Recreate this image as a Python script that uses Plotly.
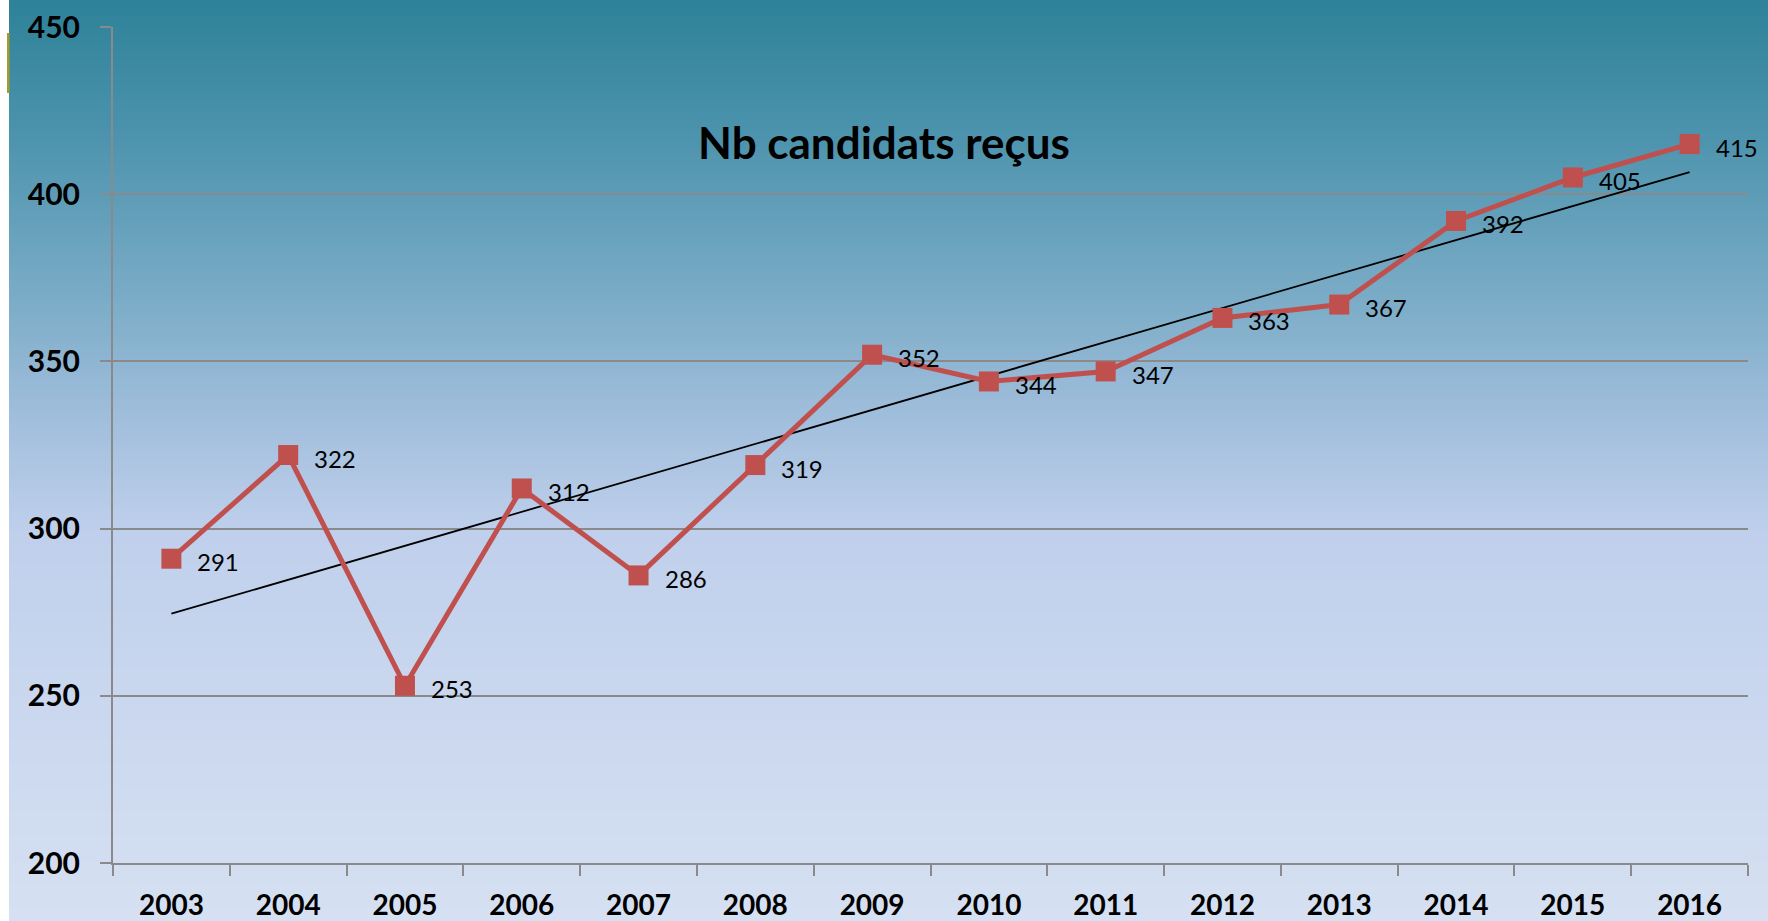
import base64
import struct
import zlib

import numpy as np
import plotly.graph_objects as go

# --- data -------------------------------------------------------------
years = ["2003", "2004", "2005", "2006", "2007", "2008", "2009",
         "2010", "2011", "2012", "2013", "2014", "2015", "2016"]
candidats_recus = [291, 322, 253, 312, 286, 319, 352,
                   344, 347, 363, 367, 392, 405, 415]
y_ticks = [200, 250, 300, 350, 400, 450]
chart_title = "Nb candidats reçus"

# --- page geometry (pixels) -------------------------------------------
W, H = 1768, 921
ML, MR, MT, MB = 113, 20, 27, 58
PW, PH = W - ML - MR, H - MT - MB

RED = "#C0504D"
GRID = "#8A8A8A"


def gradient_png(stops, height=256, width=4):
    """Build a small vertical-gradient PNG and return it as a data URI."""
    rows = []
    for i in range(height):
        t = i / (height - 1)
        for k in range(len(stops) - 1):
            t0, c0 = stops[k]
            t1, c1 = stops[k + 1]
            if t0 <= t <= t1:
                f = (t - t0) / (t1 - t0) if t1 > t0 else 0
                c = [round(a + (b - a) * f) for a, b in zip(c0, c1)]
                break
        rows.append(b"\x00" + bytes(c) * width)
    raw = b"".join(rows)

    def chunk(tag, data):
        return (struct.pack(">I", len(data)) + tag + data +
                struct.pack(">I", zlib.crc32(tag + data) & 0xFFFFFFFF))

    png = b"\x89PNG\r\n\x1a\n"
    png += chunk(b"IHDR", struct.pack(">IIBBBBB", width, height, 8, 2, 0, 0, 0))
    png += chunk(b"IDAT", zlib.compress(raw, 9))
    png += chunk(b"IEND", b"")
    return "data:image/png;base64," + base64.b64encode(png).decode()


bg_stops = [
    (0.00, (46, 130, 153)),
    (0.15, (78, 148, 174)),
    (0.33, (125, 173, 200)),
    (0.45, (160, 190, 220)),
    (0.58, (192, 208, 236)),
    (1.00, (214, 224, 242)),
]
bg_uri = gradient_png(bg_stops)

# linear trend through the yearly values
idx = np.arange(len(years))
slope, intercept = np.polyfit(idx, candidats_recus, 1)
trend = slope * idx + intercept

fig = go.Figure()

fig.add_trace(go.Scatter(
    x=years, y=trend, mode="lines",
    line=dict(color="black", width=1.8),
    hoverinfo="skip", showlegend=False,
))

fig.add_trace(go.Scatter(
    x=years, y=candidats_recus, mode="lines+markers",
    line=dict(color=RED, width=5),
    marker=dict(symbol="square", size=20, color=RED),
    showlegend=False,
))

# value labels to the right of each marker (category index as x position)
for i, v in enumerate(candidats_recus):
    fig.add_annotation(
        x=i, y=v, text=str(v), showarrow=False,
        xanchor="left", yanchor="middle", xshift=24, yshift=-3,
        font=dict(family="Lato", size=24, color="black"),
    )


def px_x(px):
    return (px - ML) / PW


def px_y(py):
    return 1 - (py - MT) / PH


# background gradient covering the page except a thin white strip on the left
fig.add_layout_image(dict(
    source=bg_uri, xref="paper", yref="paper",
    x=px_x(9), y=px_y(0), sizex=(W - 9) / PW, sizey=H / PH,
    xanchor="left", yanchor="top", sizing="stretch", layer="below",
))

# small olive accent at the top-left edge
fig.add_shape(
    type="rect", xref="paper", yref="paper",
    x0=px_x(7), x1=px_x(9.5), y0=px_y(93), y1=px_y(33),
    line=dict(width=0), fillcolor="#A39B2C", layer="above",
)

fig.update_layout(
    width=W, height=H,
    margin=dict(l=ML, r=MR, t=MT, b=MB, pad=0, autoexpand=False),
    paper_bgcolor="white",
    plot_bgcolor="rgba(0,0,0,0)",
    title=dict(
        text=chart_title, xref="container", x=0.5, xanchor="center",
        yref="container", y=1 - 144 / H, yanchor="middle",
        font=dict(family="Lato", size=44, color="black", weight="bold"),
    ),
    xaxis=dict(
        type="category", range=[-0.5, len(years) - 0.5], automargin=False,
        showgrid=False, zeroline=False,
        showline=True, linecolor=GRID, linewidth=2,
        ticks="outside", ticklen=11, tickwidth=2, tickcolor=GRID,
        tickson="boundaries", ticklabelstandoff=16,
        tickfont=dict(family="Lato", size=28, color="black", weight="bold"),
    ),
    yaxis=dict(
        range=[200, 450], tickvals=y_ticks, automargin=False,
        showgrid=True, gridcolor=GRID, gridwidth=1.5, zeroline=False,
        showline=True, linecolor=GRID, linewidth=2,
        ticks="outside", ticklen=11, tickwidth=2, tickcolor=GRID,
        ticklabelstandoff=14,
        tickfont=dict(family="Lato", size=30, color="black", weight="bold"),
    ),
)

fig.write_html("out.html")
